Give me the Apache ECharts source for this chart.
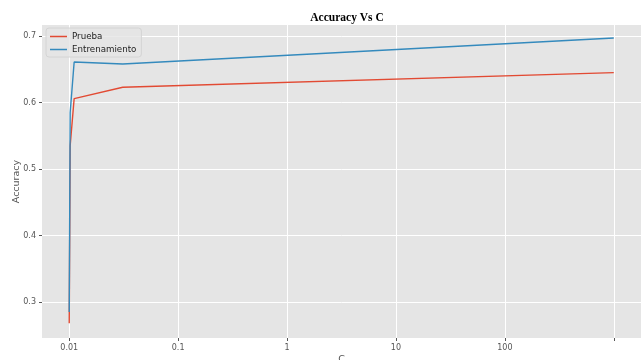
<!DOCTYPE html>
<html>
<head>
<meta charset="utf-8">
<script src="https://cdn.jsdelivr.net/npm/echarts@6/dist/echarts.min.js"></script>
<style>html,body{margin:0;padding:0;background:#fff}#c{width:642px;height:360px}</style>
</head>
<body>
<div id="c"></div>
<script>
const C = [0.01, 0.0102, 0.0111, 0.031, 1000];
const prueba = [0.268, 0.535, 0.606, 0.623, 0.645];
const entrenamiento = [0.285, 0.585, 0.661, 0.658, 0.697];
const xTicks = [0.01, 0.1, 1, 10, 100, 1000];
const xLabels = [0.01, 0.1, 1, 10, 100];
const yTicks = [0.3, 0.4, 0.5, 0.6, 0.7];

const chart = echarts.init(document.getElementById('c'), null, {renderer: 'canvas'});
const tickFont = {color: '#555', fontSize: 8, fontFamily: 'DejaVu Sans'};
chart.setOption({
  animation: false,
  backgroundColor: '#fff',
  title: {
    text: 'Accuracy Vs C', left: 342, top: 7, textAlign: 'center',
    textStyle: {fontFamily: 'Liberation Serif', fontWeight: 'bold', fontSize: 11.5, color: '#000'}
  },
  grid: {left: 42, right: 1, top: 25, bottom: 22, show: true, backgroundColor: '#E5E5E5', borderWidth: 0,
         containLabel: false, outerBoundsMode: 'none'},
  legend: {
    orient: 'vertical', left: 46, top: 28, padding: [4, 5, 3, 4], itemGap: 4,
    backgroundColor: 'rgba(229,229,229,0.8)', borderColor: '#d4d4d4', borderWidth: 1, borderRadius: 3,
    icon: 'rect', itemWidth: 17, itemHeight: 1.5,
    textStyle: {fontFamily: 'DejaVu Sans', fontSize: 8.7, color: '#222'},
    data: ['Prueba', 'Entrenamiento']
  },
  xAxis: {
    type: 'log', logBase: 10, min: 0.01 / Math.pow(10, 0.25), max: 1000 * Math.pow(10, 0.25),
    name: 'C', nameLocation: 'middle', nameGap: 17, nameMoveOverlap: false,
    nameTextStyle: {color: '#555', fontSize: 9.5, fontFamily: 'DejaVu Sans'},
    axisLine: {show: false},
    axisTick: {show: true, length: 3, lineStyle: {color: '#555'}, customValues: xTicks},
    axisLabel: Object.assign({customValues: xLabels, margin: 6, formatter: v => String(+(+v).toPrecision(3))}, tickFont),
    splitLine: {show: true, lineStyle: {color: '#fff', width: 1}},
    minorTick: {show: false}
  },
  yAxis: {
    type: 'value', min: 0.246, max: 0.7166,
    name: 'Accuracy', nameLocation: 'middle', nameGap: 20, nameRotate: 90, nameMoveOverlap: false,
    nameTextStyle: {color: '#555', fontSize: 9.5, fontFamily: 'DejaVu Sans'},
    axisLine: {show: false},
    axisTick: {show: true, length: 3, lineStyle: {color: '#555'}, customValues: yTicks},
    axisLabel: Object.assign({customValues: yTicks, margin: 6, formatter: v => (+v).toFixed(1)}, tickFont),
    splitLine: {show: true, lineStyle: {color: '#fff', width: 1}}
  },
  series: [
    {name: 'Prueba', type: 'line', data: C.map((c, i) => [c, prueba[i]]), showSymbol: false, symbol: 'none',
     lineStyle: {color: '#E24A33', width: 1.4}, itemStyle: {color: '#E24A33'}},
    {name: 'Entrenamiento', type: 'line', data: C.map((c, i) => [c, entrenamiento[i]]), showSymbol: false, symbol: 'none',
     lineStyle: {color: '#348ABD', width: 1.4}, itemStyle: {color: '#348ABD'}}
  ]
});
</script>
</body>
</html>
